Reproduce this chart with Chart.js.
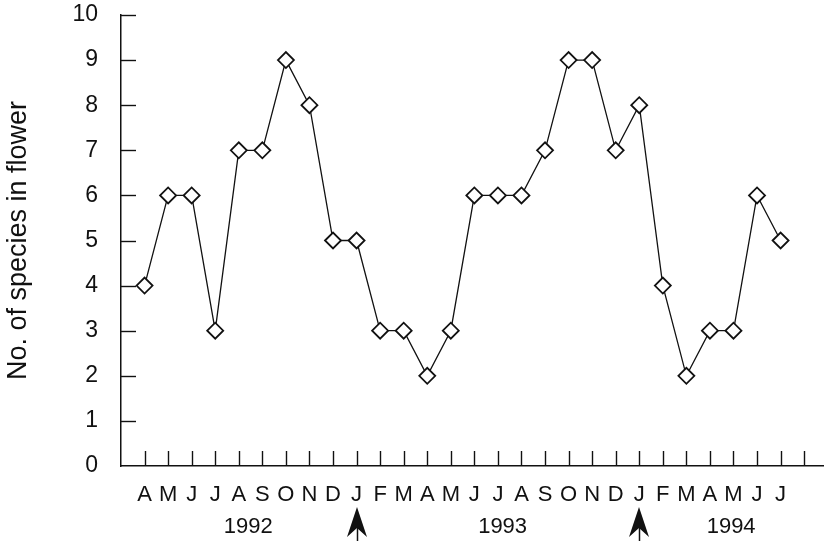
<!DOCTYPE html>
<html>
<head>
<meta charset="utf-8">
<title>Species in flower</title>
<script src="https://cdn.jsdelivr.net/npm/chart.js@4/dist/chart.umd.min.js"></script>
<style>
  html, body { margin: 0; padding: 0; background: #fff; overflow: hidden; }
  #wrap { width: 824px; height: 541px; position: relative; }
  canvas { display: block; }
</style>
</head>
<body>
<div id="wrap"><canvas id="chart"></canvas></div>
<script>
// Monthly census, April 1992 to July 1994
const monthLabels = ['A','M','J','J','A','S','O','N','D',
                     'J','F','M','A','M','J','J','A','S','O','N','D',
                     'J','F','M','A','M','J','J'];
const speciesInFlower = [4,6,6,3,7,7,9,8,5,
                         5,3,3,2,3,6,6,6,7,9,9,7,
                         8,4,2,3,3,6,5];
const yearLabels = ['1992','1993','1994'];
const yTickValues = [0,1,2,3,4,5,6,7,8,9,10];
// months marked with an arrow (January of each new year)
const arrowMonths = [9, 21];

const FONT = '"Liberation Sans", Arial, Helvetica, sans-serif';

const points = speciesInFlower.map((v, i) => ({ x: i, y: v }));

// Inward tick marks, year captions and the January arrows
const axisDecor = {
  id: 'axisDecor',
  afterDraw(chart, args, opts) {
    const { ctx, chartArea } = chart;
    const xs = chart.scales.x, ys = chart.scales.y;
    ctx.save();
    ctx.strokeStyle = '#111';
    ctx.lineWidth = 1.4;
    // x ticks point up into the plot
    for (let i = 0; i <= monthLabels.length; i++) {
      const px = Math.round(xs.getPixelForValue(i)) + 0.5;
      ctx.beginPath();
      ctx.moveTo(px, chartArea.bottom);
      ctx.lineTo(px, chartArea.bottom - 15);
      ctx.stroke();
    }
    // y ticks point right into the plot
    yTickValues.forEach(v => {
      if (v === 0) return;
      const py = Math.round(ys.getPixelForValue(v)) + 0.5;
      ctx.beginPath();
      ctx.moveTo(chartArea.left, py);
      ctx.lineTo(chartArea.left + 15, py);
      ctx.stroke();
    });
    // year captions
    ctx.fillStyle = '#111';
    ctx.font = '22px ' + FONT;
    ctx.textAlign = 'center';
    ctx.textBaseline = 'middle';
    yearLabels.forEach((t, k) => {
      ctx.fillText(t, xs.getPixelForValue(opts.yearAt[k]), 527);
    });
    // arrows under January
    arrowMonths.forEach(m => {
      const ax = Math.round(xs.getPixelForValue(m));
      ctx.beginPath();
      ctx.moveTo(ax, 507);
      ctx.lineTo(ax - 10, 537);
      ctx.lineTo(ax, 528);
      ctx.lineTo(ax + 10, 537);
      ctx.closePath();
      ctx.fill();
      ctx.lineWidth = 1.5;
      ctx.beginPath();
      ctx.moveTo(ax + 0.5, 528);
      ctx.lineTo(ax + 0.5, 541);
      ctx.stroke();
    });
    ctx.restore();
  }
};

function noEdgePadding(scale) {
  scale.paddingLeft = 0;
  scale.paddingRight = 0;
  scale.paddingTop = 0;
  scale.paddingBottom = 0;
}

new Chart(document.getElementById('chart'), {
  type: 'line',
  data: {
    datasets: [{
      data: points,
      borderColor: '#111',
      borderWidth: 1.3,
      tension: 0,
      pointStyle: 'rectRot',
      pointRadius: 8,
      pointBorderWidth: 1.8,
      pointBorderColor: '#111',
      pointBackgroundColor: '#fff'
    }]
  },
  options: {
    responsive: true,
    maintainAspectRatio: false,
    animation: false,
    layout: { autoPadding: false, padding: { top: 15, right: 1, left: 0, bottom: 0 } },
    plugins: {
      legend: { display: false },
      tooltip: { enabled: false },
      axisDecor: { yearAt: [4.4, 15.2, 24.9] }
    },
    scales: {
      x: {
        type: 'linear',
        min: -1,
        max: 28.8,
        afterFit(scale) { scale.height = 75; noEdgePadding(scale); },
        grid: { display: false, drawTicks: false },
        border: { display: true, color: '#111', width: 1.5 },
        ticks: {
          stepSize: 1,
          autoSkip: false,
          maxRotation: 0,
          padding: 16,
          color: '#111',
          font: { family: FONT, size: 22 },
          callback(v) {
            return Number.isInteger(v) && v >= 0 && v < monthLabels.length ? monthLabels[v] : '';
          }
        }
      },
      y: {
        min: 0,
        max: 10,
        afterFit(scale) { scale.width = 121; noEdgePadding(scale); },
        grid: { display: false, drawTicks: false },
        border: { display: true, color: '#111', width: 1.5 },
        ticks: {
          stepSize: 1,
          padding: 23,
          color: '#111',
          font: { family: FONT, size: 23 }
        },
        title: {
          display: true,
          text: 'No. of species in flower',
          color: '#111',
          font: { family: FONT, size: 27 },
          padding: { top: 2, bottom: 0 }
        }
      }
    }
  },
  plugins: [axisDecor]
});
</script>
</body>
</html>
